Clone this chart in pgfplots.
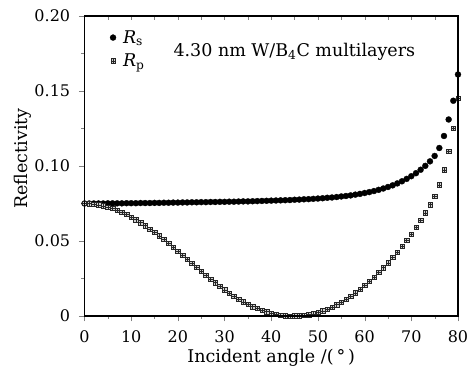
\documentclass[border=0pt]{standalone}
\usepackage{fontspec}
\setmainfont{DejaVu Serif}
\usepackage{pgfplots}
\pgfplotsset{compat=1.18}
\usepackage{pgfplotstable}

\pgfdeclareplotmark{hatchsq}{%
  \pgfpathrectangle{\pgfqpoint{-\pgfplotmarksize}{-\pgfplotmarksize}}{\pgfqpoint{2\pgfplotmarksize}{2\pgfplotmarksize}}%
  \pgfusepathqfillstroke
  \pgfpathmoveto{\pgfqpoint{-\pgfplotmarksize}{0pt}}\pgfpathlineto{\pgfqpoint{\pgfplotmarksize}{0pt}}%
  \pgfpathmoveto{\pgfqpoint{0pt}{-\pgfplotmarksize}}\pgfpathlineto{\pgfqpoint{0pt}{\pgfplotmarksize}}%
  \pgfusepathqstroke
}

\tikzset{tickfont/.style={font=\fontsize{16}{19}\selectfont},
         labfont/.style={font=\fontsize{17.5}{20}\selectfont}}

\pgfplotstableread{
x Rs
0 .0750
1 .0750
2 .0750
3 .0750
4 .0750
5 .0751
6 .0751
7 .0751
8 .0751
9 .0752
10 .0752
11 .0752
12 .0753
13 .0753
14 .0753
15 .0754
16 .0754
17 .0755
18 .0755
19 .0756
20 .0756
21 .0757
22 .0757
23 .0758
24 .0758
25 .0759
26 .0759
27 .0760
28 .0760
29 .0761
30 .0761
31 .0762
32 .0762
33 .0763
34 .0764
35 .0764
36 .0765
37 .0766
38 .0767
39 .0768
40 .0769
41 .0770
42 .0771
43 .0772
44 .0773
45 .0775
46 .0776
47 .0778
48 .0779
49 .0781
50 .0783
51 .0785
52 .0788
53 .0790
54 .0793
55 .0797
56 .0800
57 .0804
58 .0809
59 .0814
60 .0820
61 .0826
62 .0833
63 .0841
64 .0850
65 .0860
66 .0871
67 .0884
68 .0898
69 .0914
70 .0932
71 .0952
72 .0975
73 .1001
74 .1031
75 .1067
76 .1120
77 .1200
78 .1310
79 .1435
80 .1610
}\rsdata

\pgfplotstableread{
x Rp
0 .0750
1 .0749
2 .0746
3 .0741
4 .0735
5 .0727
6 .0717
7 .0705
8 .0691
9 .0677
10 .0660
11 .0642
12 .0623
13 .0602
14 .0580
15 .0558
16 .0534
17 .0510
18 .0484
19 .0459
20 .0432
21 .0406
22 .0379
23 .0352
24 .0325
25 .0299
26 .0272
27 .0247
28 .0222
29 .0198
30 .0175
31 .0153
32 .0132
33 .0112
34 .0094
35 .0078
36 .0063
37 .0050
38 .0039
39 .0029
40 .0020
41 .0012
42 .0006
43 .0002
44 .0000
45 .0001
46 .0002
47 .0005
48 .0009
49 .0015
50 .0024
51 .0034
52 .0046
53 .0060
54 .0076
55 .0093
56 .0112
57 .0133
58 .0155
59 .0179
60 .0205
61 .0232
62 .0260
63 .0291
64 .0322
65 .0355
66 .0390
67 .0427
68 .0465
69 .0505
70 .0547
71 .0591
72 .0638
73 .0688
74 .0742
75 .0800
76 .0875
77 .0975
78 .1100
79 .1250
80 .1450
}\rpdata

\begin{document}
\begin{tikzpicture}
\begin{axis}[
  scale only axis,
  width=373.5pt, height=300pt,
  xmin=0, xmax=80, ymin=0, ymax=0.20,
  xtick={0,10,...,80},
  xticklabels={0,10,20,30,40,50,60,70,80},
  ytick={0,0.05,0.10,0.15,0.20},
  yticklabels={0,0.05,0.10,0.15,0.20},
  minor x tick num=1, minor y tick num=1,
  xtick pos=left, ytick pos=left,
  tick align=outside,
  major tick length=5.5pt, minor tick length=3pt,
  line width=1.1pt,
  tick label style={tickfont},
  xticklabel style={yshift=-5pt},
  yticklabel style={xshift=-5pt},
  label style={labfont},
  xlabel={Incident angle /(\,°\,)},
  ylabel={Reflectivity},
  xlabel style={at={(axis description cs:0.5,-0.1557)}, anchor=base},
  ylabel style={at={(axis description cs:-0.1531,0.525)}, anchor=base},
  legend style={draw=none, fill=none, labfont, at={(axis description cs:0.0616,0.967)}, anchor=north west, row sep=5pt, column sep=5pt, inner sep=2pt},
  legend cell align=left,
]
\addplot[only marks, mark=*, mark size=3pt, line width=0.3pt, color=black] table[x=x,y=Rs]{\rsdata};
\addlegendentry{\textit{R}\textsubscript{s}}
\addplot[only marks, mark=hatchsq, mark size=2.2pt, line width=0.4pt, draw=black!85, fill=gray!35] table[x=x,y=Rp]{\rpdata};
\addlegendentry{\textit{R}\textsubscript{p}}
\node[labfont, anchor=base west, inner sep=0pt] at (axis cs:18.95,0.1729) {4.30 nm W/B\textsubscript{4}C multilayers};
\end{axis}
\begin{axis}[
  scale only axis,
  width=373.5pt, height=300pt,
  xmin=0, xmax=80, ymin=0, ymax=0.20,
  xtick={0,5,...,80}, xticklabels={},
  ytick=\empty,
  xtick pos=right,
  tick align=inside,
  major tick length=4pt,
  line width=1.1pt,
]
\end{axis}
\pgfresetboundingbox
\path[use as bounding box] (-84.5pt,-50pt) rectangle (387.5pt,316pt);
\end{tikzpicture}
\end{document}
